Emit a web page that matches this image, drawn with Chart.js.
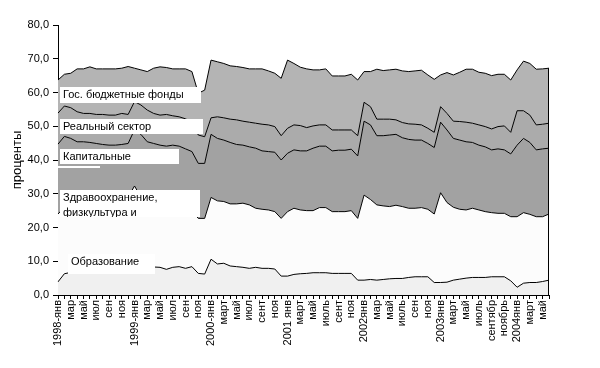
<!DOCTYPE html>
<html>
<head>
<meta charset="utf-8">
<script src="https://cdn.jsdelivr.net/npm/chart.js@4"></script>
<style>
  body { margin: 0; background: #fff; }
  canvas { display: block; }
</style>
</head>
<body>
<canvas id="chart" width="600" height="368"></canvas>
<script>
// --- данные: доли расходов, %, янв 1998 - июнь 2004 ---
const months = [
  '1998-янв','','мар','','май','','июл','','сен','','ноя','',
  '1999-янв','','мар','','май','','июл','','сен','','ноя','',
  '2000-янв','','март','','май','','июл','','сент','','ноя','',
  '2001 янв','','март','','май','','июль','','сент','','ноя','',
  '2002янв','','мар','','май','','июль','','сен','','ноя','',
  '2003янв','','март','','май','','июль','','сентябр','','ноябрь','',
  '2004янв','','март','','май',''
];

const obrazovanie = [
  3.9,6.3,6.7,7.0,7.3,7.5,7.6,7.8,8.0,8.0,
  8.1,8.2,8.2,8.0,8.0,8.3,8.2,7.6,8.2,8.4,
  7.9,8.4,6.4,6.2,10.6,9.2,9.4,8.6,8.4,8.2,
  7.9,8.2,7.9,7.9,7.7,5.6,5.6,6.1,6.3,6.4,
  6.6,6.6,6.6,6.4,6.4,6.4,6.4,4.4,4.4,4.6,
  4.4,4.6,4.8,4.9,4.9,5.2,5.4,5.4,5.4,3.7,
  3.7,3.8,4.4,4.7,5.0,5.2,5.2,5.2,5.4,5.4,
  5.4,4.2,2.3,3.5,3.7,3.7,4.0,4.4
];
const zdravoohr = [
  20.1,19.7,20.3,20.5,20.2,20.0,19.9,19.7,19.5,19.5,
  19.9,20.8,24.1,21.0,20.5,19.7,19.3,19.4,18.8,18.1,
  18.1,16.6,16.3,16.5,18.3,18.7,18.3,18.4,18.6,19.0,
  18.8,17.5,17.5,17.3,17.0,17.1,19.1,19.6,18.9,18.6,
  18.4,19.3,19.3,18.3,18.3,18.3,18.6,18.3,25.2,23.7,
  22.3,21.8,21.4,21.7,21.3,20.5,20.3,20.5,20.0,20.3,
  26.6,23.6,21.6,20.7,20.2,20.5,20.0,19.5,19.0,18.8,
  18.8,19.0,20.9,20.9,20.2,19.5,19.2,19.6
];
const kapitalnye = [
  20.7,21.0,19.4,17.9,17.9,17.7,17.4,17.1,16.9,16.9,
  16.6,15.9,16.7,18.6,16.9,16.9,16.9,17.1,17.4,17.6,
  17.3,17.5,16.3,16.3,18.7,18.5,18.2,18.2,17.6,17.2,
  17.2,17.8,17.3,17.3,17.6,17.3,17.3,17.3,17.5,17.7,
  18.5,18.2,18.2,18.0,18.2,18.2,18.2,18.5,21.9,22.1,
  20.5,20.8,21.2,21.0,20.4,20.4,20.2,20.0,19.5,19.7,
  20.9,21.5,20.4,20.5,20.2,19.5,19.2,19.2,18.6,19.1,
  18.8,18.6,21.2,22.0,21.3,19.8,20.1,19.5
];
const realnyi = [
  9.2,9.0,9.1,8.9,8.4,8.6,8.6,8.9,8.9,8.9,
  9.2,8.6,8.3,8.7,9.4,8.9,8.9,9.4,8.7,8.7,
  8.9,8.7,8.4,7.9,4.9,6.4,6.6,6.9,7.3,7.1,
  7.3,7.4,7.9,7.9,7.6,7.2,7.4,7.4,7.5,6.9,
  6.6,6.3,6.3,6.2,6.0,6.0,5.7,6.0,5.6,5.4,
  4.9,4.9,4.7,4.3,4.5,4.6,4.7,4.5,4.5,4.5,
  4.6,4.9,5.1,5.5,5.8,5.7,6.0,6.0,6.2,6.6,
  7.1,6.4,10.2,8.2,8.1,7.4,7.3,7.4
];
const gosFondy = [
  9.8,9.4,10.2,12.7,13.2,13.8,13.5,13.5,13.7,13.7,
  13.4,14.2,9.9,10.4,11.4,13.4,14.3,13.9,13.9,14.2,
  14.8,15.0,12.4,13.8,17.1,16.3,16.1,15.8,15.8,15.9,
  15.8,16.1,16.4,16.0,15.8,17.0,20.2,18.2,17.3,17.4,
  16.6,16.3,16.6,16.0,16.0,16.0,16.5,16.5,9.1,10.4,
  14.8,14.4,14.6,15.0,15.3,15.5,15.8,16.2,15.8,15.7,
  9.4,12.1,13.7,14.6,15.7,16.0,15.6,15.8,15.8,15.5,
  15.3,15.5,12.1,14.7,15.3,16.5,16.4,16.3
];

const yTicks = [0, 10, 20, 30, 40, 50, 60, 70, 80];

const FONT = "'Liberation Sans', Arial, sans-serif";

// --- подписи в белых рамках поверх областей ---
const noteBoxes = [
  { x: 60, y: 87, w: 141, h: 16, lines: ['Гос. бюджетные фонды'] },
  { x: 60, y: 119, w: 143, h: 15, lines: ['Реальный сектор'] },
  { x: 60, y: 149, w: 119, h: 15, lines: ['Капитальные'] },
  { x: 58, y: 166, w: 42, h: 2, lines: [] },
  { x: 60, y: 190, w: 140, h: 27, lines: ['Здравоохранение,', 'физкультура и'] },
  { x: 68, y: 254, w: 87, h: 20, lines: ['Образование'] }
];

const notesPlugin = {
  id: 'notes',
  afterDraw(chart) {
    const c = chart.ctx;
    // правый край стопки, как у Excel
    const meta = chart.getDatasetMeta(chart.data.datasets.length - 1);
    const last = meta.data[meta.data.length - 1];
    c.save();
    c.strokeStyle = '#000';
    c.lineWidth = 1;
    c.beginPath();
    c.moveTo(Math.round(last.x) - 0.5, chart.scales.y.getPixelForValue(0));
    c.lineTo(Math.round(last.x) - 0.5, last.y);
    c.stroke();

    noteBoxes.forEach(b => {
      c.fillStyle = '#fff';
      c.fillRect(b.x, b.y, b.w, b.h);
      c.save();
      c.beginPath();
      c.rect(b.x, b.y, b.w, b.h);
      c.clip();
      c.fillStyle = '#000';
      c.font = '11px ' + FONT;
      c.textBaseline = 'middle';
      b.lines.forEach((t, i) => {
        c.fillText(t, b.x + 3, b.y + 8 + i * 15);
      });
      c.restore();
    });
    c.restore();
  }
};

function area(label, data, color, fill) {
  return {
    label: label,
    data: data,
    backgroundColor: color,
    borderColor: '#000',
    borderWidth: 1,
    pointRadius: 0,
    tension: 0,
    fill: fill
  };
}

const chart = new Chart(document.getElementById('chart'), {
  type: 'line',
  data: {
    labels: months,
    datasets: [
      area('Образование', obrazovanie, '#f0f0f0', 'origin'),
      area('Здравоохранение, физкультура и спорт', zdravoohr, '#fcfcfc', '-1'),
      area('Капитальные', kapitalnye, '#a2a2a2', '-1'),
      area('Реальный сектор', realnyi, '#ababab', '-1'),
      area('Гос. бюджетные фонды', gosFondy, '#b4b4b4', '-1')
    ]
  },
  options: {
    responsive: false,
    animation: false,
    layout: { padding: { top: 25, right: 51, left: 0, bottom: 0 } },
    plugins: { legend: { display: false }, tooltip: { enabled: false } },
    scales: {
      x: {
        z: 1,
        offset: false,
        afterFit(s) { s.height = 73; },
        grid: { display: true, drawOnChartArea: false, tickLength: 4, color: '#000' },
        border: { display: true, color: '#000', width: 1 },
        ticks: {
          autoSkip: false, maxRotation: 90, minRotation: 90, padding: 1,
          color: '#000', font: { family: FONT, size: 11 }
        }
      },
      y: {
        z: 1,
        stacked: true,
        min: 0,
        max: 80,
        afterFit(s) { s.width = 58; },
        afterBuildTicks(s) { s.ticks = yTicks.map(v => ({ value: v })); },
        grid: { display: true, drawOnChartArea: false, tickLength: 5, color: '#000' },
        border: { display: true, color: '#000', width: 1 },
        ticks: {
          padding: 4, color: '#000', font: { family: FONT, size: 11 },
          callback: v => v.toFixed(1).replace('.', ',')
        },
        title: {
          display: true, text: 'проценты', color: '#000',
          font: { family: FONT, size: 13 }, padding: { top: 10, bottom: 0 }
        }
      }
    }
  },
  plugins: [notesPlugin]
});
</script>
</body>
</html>
